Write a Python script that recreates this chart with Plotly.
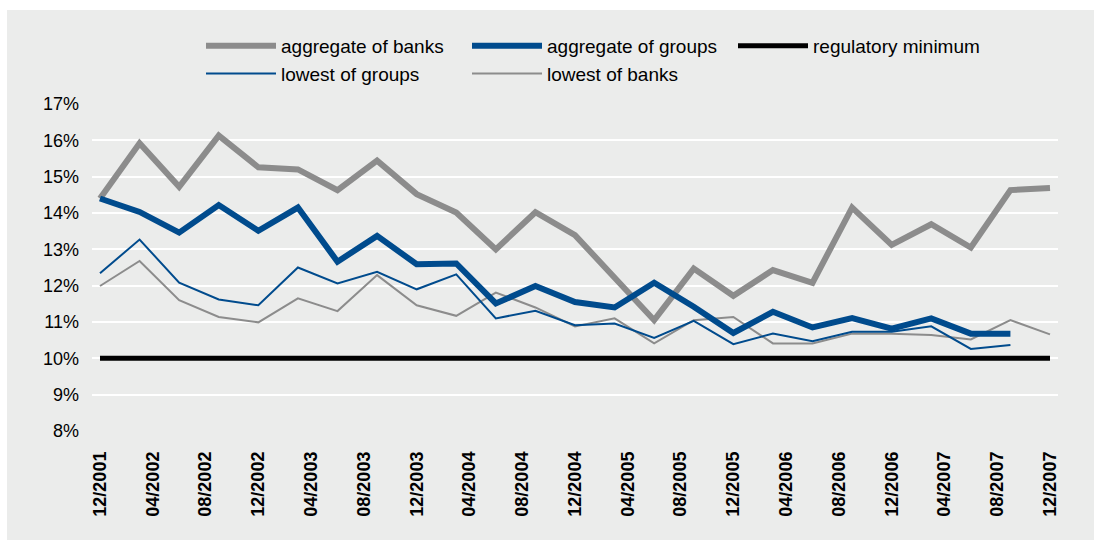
import plotly.graph_objects as go

# quarterly observation months, counted from 12/2001 (month 0)
months = [0, 3, 6, 9, 12, 15, 18, 21, 24, 27, 30, 33, 36, 39, 42, 45, 48, 51, 54, 57, 60, 63, 66, 69, 72]

aggregate_banks = [14.40, 15.92, 14.72, 16.13, 15.26, 15.20, 14.63, 15.44, 14.52, 14.01, 13.00, 14.02, 13.39,
                   12.23, 11.05, 12.47, 11.72, 12.43, 12.08, 14.15, 13.12, 13.69, 13.05, 14.63, 14.69]
aggregate_groups = [14.40, 14.03, 13.46, 14.22, 13.51, 14.15, 12.66, 13.37, 12.59, 12.61, 11.51, 11.99, 11.55,
                    11.40, 12.08, 11.42, 10.70, 11.28, 10.85, 11.11, 10.82, 11.10, 10.68, 10.68]
regulatory_minimum = [10.0] * 25
lowest_groups = [12.34, 13.27, 12.08, 11.62, 11.46, 12.50, 12.06, 12.38, 11.90, 12.31, 11.10, 11.31, 10.91,
                 10.96, 10.56, 11.03, 10.39, 10.68, 10.47, 10.73, 10.73, 10.88, 10.26, 10.37]
lowest_banks = [11.99, 12.68, 11.60, 11.14, 10.99, 11.65, 11.30, 12.29, 11.46, 11.17, 11.81, 11.40, 10.88,
                11.10, 10.41, 11.05, 11.14, 10.41, 10.41, 10.68, 10.68, 10.64, 10.52, 11.05, 10.66]

tick_months = list(range(0, 73, 4))
tick_labels = ["12/2001", "04/2002", "08/2002", "12/2002", "04/2003", "08/2003", "12/2003", "04/2004",
               "08/2004", "12/2004", "04/2005", "08/2005", "12/2005", "04/2006", "08/2006", "12/2006",
               "04/2007", "08/2007", "12/2007"]
y_ticks = [8, 9, 10, 11, 12, 13, 14, 15, 16, 17]
y_labels = [f"{v}%" for v in y_ticks]

GRAY = "#8c8c8c"
BLUE = "#004b8d"
BG = "#ebeceb"
FONT = "Liberation Sans"

fig = go.Figure()
series = [
    ("aggregate of banks", aggregate_banks, GRAY, 6),
    ("aggregate of groups", aggregate_groups, BLUE, 6),
    ("regulatory minimum", regulatory_minimum, "#000000", 5),
    ("lowest of groups", lowest_groups, BLUE, 2),
    ("lowest of banks", lowest_banks, GRAY, 2),
]
# draw order: thin lines under thick ones, regulatory at bottom
order = [2, 4, 3, 0, 1]
for i in order:
    name, vals, col, w = series[i]
    fig.add_trace(go.Scatter(
        x=months[:len(vals)], y=vals, name=name, mode="lines",
        line=dict(color=col, width=w), legendrank=i + 1,
    ))

W, H = 1094, 540
ml, mr, mt, mb = 92, 36, 104, 109
pw, ph = W - ml - mr, H - mt - mb

def px_x(p):
    return (p - ml) / pw

def px_y(p):
    return (H - mb - p) / ph

fig.add_shape(type="rect", xref="paper", yref="paper",
              x0=px_x(7), x1=px_x(W + 5), y0=px_y(H + 5), y1=px_y(10),
              fillcolor=BG, line=dict(width=0), layer="below")

fig.update_layout(
    width=W, height=H,
    margin=dict(l=ml, r=mr, t=mt, b=mb, autoexpand=False),
    paper_bgcolor="white",
    plot_bgcolor=BG,
    font=dict(family=FONT, color="#000000"),
    showlegend=True,
    legend=dict(
        orientation="h", xref="container", yref="container",
        x=201 / W, y=1 - 27 / H, xanchor="left", yanchor="top",
        entrywidth=181, entrywidthmode="pixels",
        font=dict(size=19, family=FONT), bgcolor="rgba(0,0,0,0)",
        traceorder="normal", itemwidth=70,
    ),
    xaxis=dict(
        range=[-0.606, 72.606], tickmode="array", tickvals=tick_months, ticktext=tick_labels,
        tickangle=-90, showgrid=False, zeroline=False, showline=False,
        tickfont=dict(size=18, family=FONT, weight="bold"), ticklabelstandoff=16,
    ),
    yaxis=dict(
        range=[8, 17], tickmode="array", tickvals=y_ticks, ticktext=y_labels,
        showgrid=True, gridcolor="white", gridwidth=2, zeroline=False, showline=False,
        tickfont=dict(size=18, family=FONT), ticklabelstandoff=12,
    ),
)

fig.write_html("out.html")
